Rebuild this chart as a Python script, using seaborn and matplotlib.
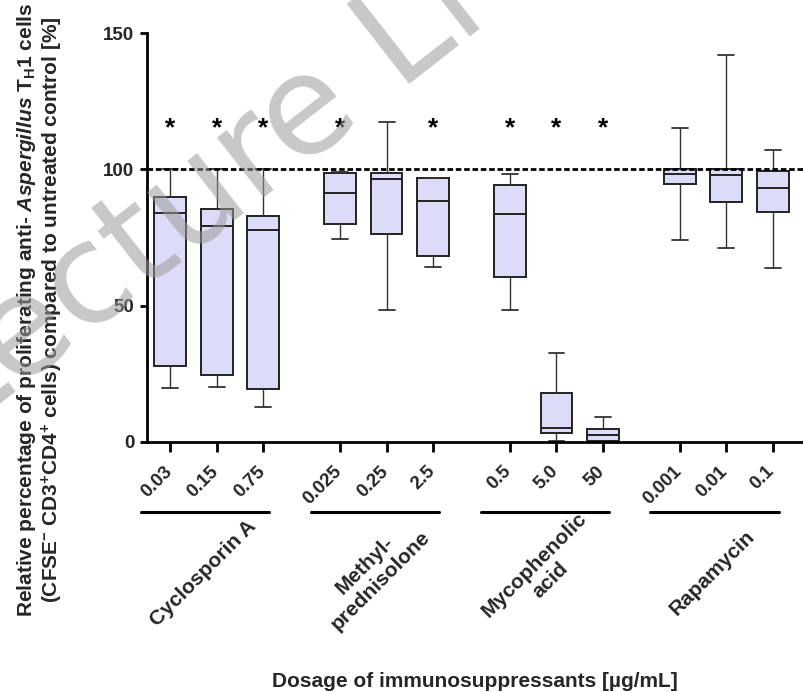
import numpy as np
import pandas as pd
import matplotlib
matplotlib.use("Agg")
import matplotlib.pyplot as plt
import matplotlib.transforms as mtransforms
import seaborn as sns

sns.set_theme(style="white")
plt.rcParams["font.family"] = ["Liberation Sans", "DejaVu Sans"]
plt.rcParams["font.weight"] = "bold"
plt.rcParams["mathtext.fontset"] = "custom"
plt.rcParams["mathtext.rm"] = "Liberation Sans:bold"
plt.rcParams["mathtext.it"] = "Liberation Sans:italic:bold"
plt.rcParams["mathtext.bf"] = "Liberation Sans:bold"

# dose labels and drug groups
doses = ["0.03", "0.15", "0.75", "0.025", "0.25", "2.5",
         "0.5", "5.0", "50", "0.001", "0.01", "0.1"]
drugs = ["Cyclosporin A", "Methyl-\nprednisolone", "Mycophenolic\nacid", "Rapamycin"]
group_of = [0, 0, 0, 1, 1, 1, 2, 2, 2, 3, 3, 3]

# box stats: min, q1, median, q3, max  (% of control)
minima  = [19.7, 20.3, 13.0, 74.3, 48.5, 64.1, 48.3, 0.5, 0.0, 74.0, 71.1, 63.8]
q1      = [27.7, 24.6, 19.4, 80.1, 76.3, 68.1, 60.4, 3.2, 0.5, 94.7, 88.0, 84.3]
medians = [84.0, 79.4, 77.7, 91.2, 96.3, 88.4, 83.8, 5.0, 2.6, 98.2, 97.8, 93.3]
q3      = [90.0, 85.3, 82.8, 98.5, 98.5, 96.7, 94.1, 18.1, 4.7, 100.0, 100.2, 99.4]
maxima  = [100.0, 100.0, 100.0, 99.0, 117.4, 97.0, 98.4, 32.8, 9.3, 115.3, 141.9, 107.1]
significant = [1, 1, 1, 1, 0, 1, 1, 1, 1, 0, 0, 0]

gap = 0.65
pos = [i + g * gap for i, g in enumerate(group_of)]

rows = []
for k in range(len(doses)):
    for v in (minima[k], q1[k], medians[k], q3[k], maxima[k]):
        rows.append({"pos": pos[k], "value": v})
df = pd.DataFrame(rows)

fig = plt.figure(figsize=(8.04, 6.92), dpi=100)
ax = fig.add_axes([147 / 804, 1 - 442 / 692, 656 / 804, 409 / 692])

sns.boxplot(
    data=df, x="pos", y="value", native_scale=True, whis=(0, 100),
    width=0.68, color="#dcdcf8", saturation=1, linecolor="#222222",
    linewidth=1.4, ax=ax,
    whiskerprops=dict(linewidth=1.0, color="#333333"),
    capprops=dict(linewidth=1.3, color="#333333"),
    medianprops=dict(linewidth=1.4, color="#222222"),
)

ax.axhline(100, color="black", lw=2, ls=(0, (2, 1)), zorder=5)

for k in range(len(doses)):
    if significant[k]:
        ax.text(pos[k], 115, "*", ha="center", va="center", fontsize=19,
                fontweight="bold", color="black")

ax.set_xlim(-0.5, pos[-1] + 0.65)
ax.set_ylim(0, 150)
ax.set_yticks([0, 50, 100, 150])
ax.set_yticklabels(["0", "50", "100", "150"], fontsize=13.5)
ax.set_xticks(pos)
ax.set_xticklabels([])
ax.set_xlabel("")
ax.set_ylabel("")

for s in ["top", "right"]:
    ax.spines[s].set_visible(False)
for s in ["left", "bottom"]:
    ax.spines[s].set_linewidth(2)
    ax.spines[s].set_color("black")
ax.tick_params(axis="x", length=7, width=2, color="black", pad=4, bottom=True)
ax.tick_params(axis="y", length=5, width=2, color="black", pad=4, left=True)

trans = mtransforms.blended_transform_factory(ax.transData, ax.transAxes)

# dose labels, rotated, sitting just left of each tick
for p, lab in zip(pos, doses):
    ax.text(p - 0.15, -0.051, lab, transform=trans, rotation=45,
            ha="right", va="top", rotation_mode="anchor", fontsize=13.5)

# group lines and drug names under the dose labels
for g, name in enumerate(drugs):
    members = [pos[k] for k in range(len(doses)) if group_of[k] == g]
    ax.plot([members[0] - 0.63, members[-1] + 0.13], [-0.171, -0.171],
            color="black", lw=2.2, transform=trans, clip_on=False)
    ax.text(np.mean(members) - 0.3, -0.32, name, transform=trans,
            rotation=45, ha="center", va="center", multialignment="center",
            fontsize=15, linespacing=1.2)

ax.text(0.5, -0.586, "Dosage of immunosuppressants [\u00b5g/mL]",
        transform=ax.transAxes, ha="center", va="center", fontsize=15)

fig.text(40 / 804, 1 - 310 / 692,
         "Relative percentage of proliferating anti- $\\mathit{Aspergillus}$ T$_{\\mathrm{H}}$1 cells\n"
         "(CFSE$^{-}$ CD3$^{+}$CD4$^{+}$ cells) compared to untreated control [%]",
         rotation=90, ha="center", va="center", multialignment="center",
         fontsize=15, linespacing=1.05)

# faint watermark across the upper left
fig.text(-44 / 804, 1 - 438 / 692, "Lecture Li", rotation=38, ha="left",
         va="baseline", rotation_mode="anchor", fontsize=100,
         family="DejaVu Sans", fontweight="normal", color="#9a9a9a",
         alpha=0.55, zorder=10)

fig.savefig("out.png", dpi=100)
